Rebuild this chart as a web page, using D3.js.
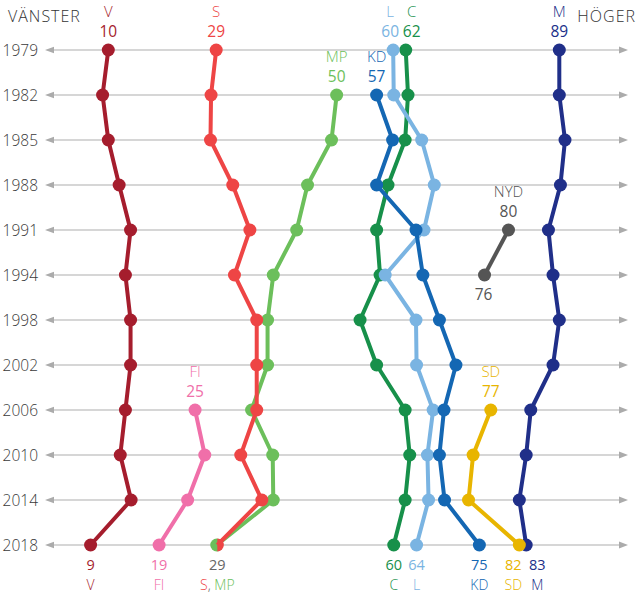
<!DOCTYPE html>
<html>
<head>
<meta charset="utf-8">
<script src="https://cdn.jsdelivr.net/npm/d3@7"></script>
<style>
  body { margin: 0; background: #fff; }
  text { font-family: "Open Sans", "Noto Sans", sans-serif; }
</style>
</head>
<body>
<svg id="chart" width="640" height="594"></svg>
<script>
// Election years (rows)
const years = ["1979", "1982", "1985", "1988", "1991", "1994", "1998", "2002", "2006", "2010", "2014", "2018"];

// Left-right position of each party (0 = left, 100 = right), null = not in parliament
const V   = [10, 9, 10, 11.9, 13.9, 13, 13.9, 13.9, 13, 12.1, 14, 6.9];
const S   = [28.9, 28, 27.9, 31.8, 34.8, 32.1, 36, 36, 36, 33.2, 36.9, 29.1];
const MP  = [null, 50, 49.1, 44.9, 43, 38.9, 37.9, 37.9, 35.1, 38.8, 38.9, 29];
const C   = [62.1, 62.5, 62, 59, 57, 57.6, 54.1, 57, 62, 62.8, 62, 60];
const L   = [59.9, 60, 64.9, 67.1, 65.3, 58.5, 63.9, 64, 66.9, 65.9, 66.1, 64];
const KD  = [null, 57, 59.8, 57, 63.9, 65.1, 68, 70.9, 68.8, 68, 68.9, 75];
const M   = [89, 89, 90, 89.2, 87.1, 87.9, 89, 87.9, 84, 83.2, 82, 83.2];
const NYD = [null, null, null, null, 80.1, 75.9, null, null, null, null, null, null];
const FI  = [null, null, null, null, null, null, null, null, 25.2, 26.9, 23.9, 18.9];
const SD  = [null, null, null, null, null, null, null, null, 77, 73.9, 73.1, 82];

// Labels at first appearance
const topParties = ["V", "S", "MP", "KD", "L", "C", "M", "NYD", "FI", "SD"];
const topValues  = ["10", "29", "50", "57", "60", "62", "89", "80", "25", "77"];

// Labels under 2018
const endNames  = ["V", "FI", "S, MP", "C", "L", "KD", "SD", "M"];
const endValues = ["9", "19", "29", "60", "64", "75", "82", "83"];

// NyD's last value
const nydEnd = "76";

const series = { V, S, MP, C, L, KD, M, NYD, FI, SD };
const colors = {
  V: "#a51d2d", S: "#ee4545", MP: "#6cbf5b", C: "#17904a", L: "#7ab4e2",
  KD: "#1467b3", M: "#202f89", NYD: "#555555", FI: "#f06fa9", SD: "#e8b500"
};
const drawOrder = ["M", "NYD", "C", "L", "KD", "SD", "MP", "S", "V", "FI"];

// label nudges
const topDx = { L: -3, C: 6 };
const endDx = { SD: -6, M: 11 };

const svg = d3.select("#chart");

const x = d3.scaleLinear().domain([0, 100]).range([51.2, 622.1]);
const y = d3.scalePoint().domain(years).range([50, 545]);

// grid rows with arrows both ends
const grid = svg.append("g");
years.forEach(yr => {
  const yy = y(yr);
  grid.append("line")
    .attr("x1", 52).attr("x2", 621)
    .attr("y1", yy).attr("y2", yy)
    .attr("stroke", "#c8c8c8").attr("stroke-width", 1.5);
  grid.append("path")
    .attr("d", `M45,${yy} L54,${yy - 3.2} L54,${yy + 3.2} Z`)
    .attr("fill", "#ababab");
  grid.append("path")
    .attr("d", `M628,${yy} L619,${yy - 3.5} L619,${yy + 3.5} Z`)
    .attr("fill", "#ababab");
  grid.append("text")
    .attr("x", 38).attr("y", yy)
    .attr("dy", "0.36em")
    .attr("text-anchor", "end")
    .attr("font-size", 15.5)
    .attr("font-weight", 300)
    .attr("fill", "#3a3a3a")
    .text(yr);
});

// headers
svg.append("text").attr("x", 8).attr("y", 22)
  .attr("font-size", 16).attr("font-weight", 300).attr("fill", "#333")
  .attr("letter-spacing", 1)
  .text("VÄNSTER");
svg.append("text").attr("x", 636).attr("y", 22).attr("text-anchor", "end")
  .attr("font-size", 16).attr("font-weight", 300).attr("fill", "#333")
  .attr("letter-spacing", 1)
  .text("HÖGER");

const line = d3.line()
  .defined(d => d != null)
  .x(d => x(d))
  .y((d, i) => y(years[i]));

const halfRight = d3.arc().innerRadius(0).outerRadius(6.5).startAngle(0).endAngle(Math.PI);

drawOrder.forEach(p => {
  const vals = series[p];
  const g = svg.append("g");
  g.append("path")
    .attr("d", line(vals))
    .attr("fill", "none")
    .attr("stroke", colors[p])
    .attr("stroke-width", 4)
    .attr("stroke-linejoin", "round");
  vals.forEach((v, i) => {
    if (v == null) return;
    // S and MP share the 2018 point: S only takes the right half
    if (p === "S" && years[i] === "2018") {
      g.append("path")
        .attr("d", halfRight())
        .attr("transform", `translate(${x(v)},${y(years[i])})`)
        .attr("fill", colors[p]);
    } else {
      g.append("circle")
        .attr("cx", x(v)).attr("cy", y(years[i]))
        .attr("r", 6.5)
        .attr("fill", colors[p]);
    }
  });
});

// top labels
topParties.forEach((p, k) => {
  const vals = series[p];
  const i = vals.findIndex(v => v != null);
  const lx = x(vals[i]) + (topDx[p] || 0);
  const ly = y(years[i]);
  svg.append("text").attr("x", lx).attr("y", ly - 33)
    .attr("text-anchor", "middle").attr("font-size", 15).attr("font-weight", 300)
    .attr("fill", colors[p]).text(p);
  svg.append("text").attr("x", lx).attr("y", ly - 13)
    .attr("text-anchor", "middle").attr("font-size", 15.5).attr("font-weight", 400)
    .attr("fill", colors[p]).text(topValues[k]);
});

// NyD end label
{
  const i = NYD.length - 1 - [...NYD].reverse().findIndex(v => v != null);
  svg.append("text").attr("x", x(NYD[i]) - 1).attr("y", y(years[i]) + 25)
    .attr("text-anchor", "middle").attr("font-size", 15.5)
    .attr("fill", colors.NYD).text(nydEnd);
}

// 2018 labels
const last = years.length - 1;
endNames.forEach((name, k) => {
  const parts = name.split(", ");
  const p = parts[0];
  const lx = x(series[p][last]) + (endDx[p] || 0);
  const ly = y(years[last]);
  svg.append("text").attr("x", lx).attr("y", ly + 25)
    .attr("text-anchor", "middle").attr("font-size", 14.5)
    .attr("fill", parts.length > 1 ? "#666" : colors[p])
    .text(endValues[k]);
  const t = svg.append("text").attr("x", lx).attr("y", ly + 45)
    .attr("text-anchor", "middle").attr("font-size", 14).attr("font-weight", 300);
  parts.forEach((q, j) => {
    if (j > 0) t.append("tspan").attr("fill", "#666").text(", ");
    t.append("tspan").attr("fill", colors[q]).text(q);
  });
});
</script>
</body>
</html>
